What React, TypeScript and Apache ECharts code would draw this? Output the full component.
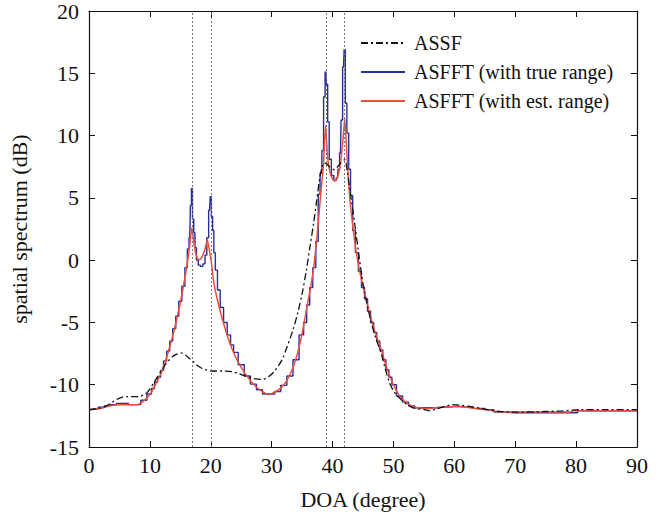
import React, { useEffect, useRef } from "react";
import * as echarts from "echarts";

const assf: [number, number][] = [
  [0, -12.0], [1, -11.95], [2, -11.85], [2.7, -11.75], [3.5, -11.5], [4.5, -11.2], [5.5, -11.0], [6.1, -10.95],
  [8.2, -10.95], [9, -10.8], [9.6, -10.6], [10.7, -9.8], [12.1, -8.7], [13, -8.1], [13.7, -7.75], [14.4, -7.55],
  [15.1, -7.45], [15.8, -7.6], [16.5, -7.9], [17, -8.1], [17.8, -8.45], [18.6, -8.7], [19.5, -8.85], [20.25, -8.9],
  [22, -8.9], [23.5, -8.95], [24.5, -9.1], [25.7, -9.3], [27, -9.5], [28.4, -9.57], [29.5, -9.35], [30.5, -8.9],
  [31.7, -8.0], [32.5, -7.0], [33.5, -5.6], [34.3, -4.2], [35, -2.7], [35.7, -0.8], [36.3, 1.1], [36.9, 3.0],
  [37.4, 4.8], [37.9, 6.6], [38.3, 7.5], [38.6, 7.8], [39, 7.75], [39.5, 7.5], [40.3, 7.26], [41, 7.6], [41.5, 7.9],
  [42, 8.06], [42.4, 7.2], [42.8, 5.8], [43.1, 4.8], [43.7, 2.7], [44.3, 0.5], [45, -1.9], [45.7, -3.6], [46.4, -5.1],
  [47.2, -6.4], [48, -7.5], [48.7, -8.8], [49.4, -9.9], [50.3, -10.7], [51.3, -11.2], [52.4, -11.65], [53.5, -11.9],
  [55.1, -12.0], [56, -12.1], [57, -11.95], [58.5, -11.75], [59.7, -11.6], [61, -11.65], [62.5, -11.75], [64.4, -11.9],
  [66, -12.05], [67.6, -12.15], [70, -12.2], [75, -12.15], [77.9, -12.1], [80.7, -12.0], [85, -12.0], [90, -12.0],
];

const asfftTrue: [number, number][] = [
  [0, -12], [1, -11.95], [2, -11.8], [3, -11.7], [4, -11.6], [5, -11.5], [6, -11.5], [7, -11.6], [8, -11.6],
  [9, -11.25], [10, -10.75], [10.5, -10.3], [11, -9.8], [11.5, -9.4], [12, -8.85], [12.5, -8.1], [13, -7.3],
  [13.5, -6.5], [14, -5.5], [14.5, -4.5], [15, -3.3], [15.5, -2.1], [16, -0.6], [16.3, 0.9], [16.55, 1.8],
  [16.75, 4.4], [16.9, 5.75], [17.1, 3.3], [17.3, 2.2], [17.5, 1.0], [17.8, 0.0], [18.1, -0.4], [18.5, -0.5],
  [18.9, -0.3], [19.2, 0.4], [19.5, 1.8], [19.8, 4.0], [20.0, 5.1], [20.2, 3.5], [20.4, 2.4], [20.6, 0.6],
  [20.9, -0.8], [21.3, -2.4], [21.8, -3.8], [22.4, -5.0], [23, -6.0], [23.5, -6.8], [24, -7.4], [25, -8.4],
  [26, -9.3], [27, -9.95], [28, -10.4], [29, -10.75], [30, -10.75], [31, -10.55], [32, -10.05], [33, -9.3],
  [34, -8.0], [35, -6.0], [35.5, -5.0], [36, -3.6], [36.5, -2.2], [37, -0.6], [37.5, 1.5], [37.8, 5.3],
  [38.1, 7.0], [38.4, 8.8], [38.65, 13.1], [38.9, 15.1], [39.1, 14.1], [39.3, 11.1], [39.6, 8.1], [40.0, 6.8],
  [40.4, 6.4], [40.8, 6.6], [41.0, 7.3], [41.3, 8.6], [41.5, 11.25], [41.8, 15.5], [42.0, 16.9], [42.2, 12.6],
  [42.5, 10.2], [42.8, 7.3], [43.1, 5.2], [43.5, 2.4], [44, 0.6], [44.5, -0.9], [45, -2.2], [45.5, -3.1],
  [46, -4.1], [46.5, -5.0], [47, -5.8], [47.5, -6.5], [48, -7.2], [48.5, -8.0], [49, -8.8], [49.5, -9.4],
  [50, -10.0], [51, -10.9], [52, -11.4], [53, -11.7], [54, -11.85], [56, -11.85], [58, -11.8], [60, -11.75],
  [62, -11.8], [64, -11.9], [66, -12.0], [67, -12.2], [70, -12.25], [75, -12.25], [80, -12.25], [80.5, -12.1],
  [90, -12.1],
];

const asfftEst: [number, number][] = [
  [0, -12], [1, -11.95], [2, -11.9], [3, -11.75], [4, -11.65], [5, -11.6], [6, -11.6], [7, -11.6], [8, -11.6],
  [9, -11.3], [10, -10.8], [11, -9.9], [12, -8.9], [13, -7.4], [14, -5.6], [15, -3.4], [16, -0.7], [16.5, 1.0],
  [16.9, 2.6], [17.2, 1.5], [17.5, 0.6], [17.8, 0.15], [18.2, 0.05], [18.6, 0.3], [19.0, 0.8], [19.45, 1.6],
  [19.8, 0.7], [20.1, -0.2], [20.5, -1.8], [21, -3.0], [21.5, -4.0], [22, -4.9], [23, -6.5], [24, -7.7],
  [25, -8.6], [26, -9.35], [27, -9.95], [28, -10.4], [29, -10.7], [29.5, -10.78], [30, -10.72], [31, -10.45],
  [32, -10.0], [33, -9.2], [34, -7.9], [35, -5.9], [36, -3.2], [36.5, -1.9], [37, -0.2], [37.5, 2.2], [38, 5.0],
  [38.5, 7.6], [38.85, 10.8], [39.2, 8.2], [39.6, 7.0], [40, 6.5], [40.3, 6.35], [40.7, 6.5], [41.1, 7.2],
  [41.5, 8.6], [41.8, 10.2], [42, 11.4], [42.3, 9.0], [42.6, 6.5], [42.9, 4.6], [43.5, 2.0], [44, 0.3],
  [44.5, -1.0], [45, -2.1], [46, -4.1], [46.5, -5.0], [47, -5.8], [48, -7.2], [49, -8.8], [50, -10.0],
  [51, -10.9], [52, -11.4], [53, -11.7], [54, -11.85], [56, -11.9], [58, -11.8], [60, -11.75], [62, -11.8],
  [64, -11.95], [66, -12.05], [67.5, -12.2], [70, -12.2], [75, -12.2], [79, -12.2], [79.5, -12.1], [85, -12.1],
  [90, -12.1],
];

const doaMarks = [17, 20, 39, 42];
const seriesNames = ["ASSF", "ASFFT (with true range)", "ASFFT (with est. range)"];

const FONT = "'Liberation Serif', 'Times New Roman', 'DejaVu Serif', serif";

export default function App() {
  const ref = useRef<HTMLDivElement>(null);
  useEffect(() => {
    document.body.style.margin = "0";
    const chart = echarts.init(ref.current!, null, { renderer: "svg" });
    const tickCommon = { show: true, inside: true, length: 6, lineStyle: { color: "#111", width: 1 } };
    const lineCommon = { show: true, onZero: false, lineStyle: { color: "#111", width: 1.2 } };
    chart.setOption({
      animation: false,
      backgroundColor: "#ffffff",
      textStyle: { fontFamily: FONT },
      grid: { left: 87, right: 26, top: 11, bottom: 72, containLabel: false },
      legend: {
        orient: "vertical",
        left: 355,
        top: 27,
        itemWidth: 44,
        itemHeight: 14,
        itemGap: 7,
        data: seriesNames,
        itemStyle: { opacity: 0 },
        textStyle: { fontFamily: FONT, fontSize: 20, color: "#111", lineHeight: 22, padding: [0, 0, 0, 4] },
      },
      xAxis: [
        {
          type: "value",
          min: 0,
          max: 90,
          interval: 10,
          name: "DOA (degree)",
          nameLocation: "middle",
          nameGap: 41,
          nameTextStyle: { fontFamily: FONT, fontSize: 22, color: "#111" },
          axisLine: lineCommon,
          axisTick: tickCommon,
          axisLabel: { fontFamily: FONT, fontSize: 22, color: "#111", margin: 7 },
          splitLine: { show: false },
        },
        {
          type: "value",
          position: "top",
          min: 0,
          max: 90,
          interval: 10,
          axisLine: lineCommon,
          axisTick: tickCommon,
          axisLabel: { show: false },
          splitLine: { show: false },
        },
      ],
      yAxis: [
        {
          type: "value",
          min: -15,
          max: 20,
          interval: 5,
          name: "spatial spectrum (dB)",
          nameLocation: "middle",
          nameGap: 59,
          nameTextStyle: { fontFamily: FONT, fontSize: 22, color: "#111" },
          axisLine: lineCommon,
          axisTick: tickCommon,
          axisLabel: { fontFamily: FONT, fontSize: 22, color: "#111", margin: 10 },
          splitLine: { show: false },
        },
        {
          type: "value",
          position: "right",
          min: -15,
          max: 20,
          interval: 5,
          axisLine: lineCommon,
          axisTick: tickCommon,
          axisLabel: { show: false },
          splitLine: { show: false },
        },
      ],
      series: [
        {
          name: seriesNames[0],
          type: "line",
          data: assf,
          symbol: "none",
          smooth: 0.3,
          z: 4,
          lineStyle: { color: "#111", width: 1.3, type: [7, 3, 2, 3] },
          itemStyle: { color: "#111" },
          markLine: {
            silent: true,
            symbol: ["none", "none"],
            label: { show: false },
            lineStyle: { type: [2, 2], color: "#777", width: 1 },
            data: doaMarks.map((v) => ({ xAxis: v })),
          },
        },
        {
          name: seriesNames[1],
          type: "line",
          data: asfftTrue,
          symbol: "none",
          step: "middle",
          z: 2,
          lineStyle: { color: "#2a2d9c", width: 1.4 },
          itemStyle: { color: "#2a2d9c" },
        },
        {
          name: seriesNames[2],
          type: "line",
          data: asfftEst,
          symbol: "none",
          smooth: 0.2,
          z: 3,
          lineStyle: { color: "#ef4f38", width: 1.5 },
          itemStyle: { color: "#ef4f38" },
        },
      ],
    });
    return () => chart.dispose();
  }, []);
  return <div ref={ref} style={{ width: 663, height: 519 }} />;
}
